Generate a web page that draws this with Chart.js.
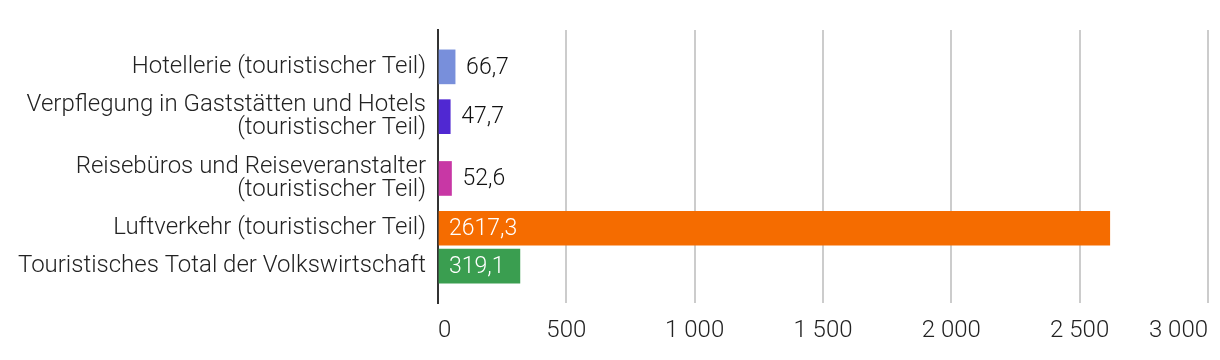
<!DOCTYPE html>
<html>
<head>
<meta charset="utf-8">
<script src="https://cdn.jsdelivr.net/npm/chart.js@4"></script>
<style>
  html, body { margin: 0; padding: 0; background: #ffffff; }
  #wrap { width: 1220px; height: 360px; }
</style>
</head>
<body>
<div id="wrap"><canvas id="c" width="1220" height="360"></canvas></div>
<script>
// ---- data ----
const categories = [
  ["Hotellerie (touristischer Teil)"],
  ["Verpflegung in Gaststätten und Hotels", "(touristischer Teil)"],
  ["Reisebüros und Reiseveranstalter", "(touristischer Teil)"],
  ["Luftverkehr (touristischer Teil)"],
  ["Touristisches Total der Volkswirtschaft"]
];
const values = [66.7, 47.7, 52.6, 2617.3, 319.1];
const barColors = ["#788fdb", "#5028d2", "#c837a5", "#f56c00", "#3a9e50"];
const xTicks = [0, 500, 1000, 1500, 2000, 2500, 3000];

// ---- layout of category bands: band height grows with label line count ----
const LINE = 24, BAND_PAD = 14, EDGE = 18;
const bands = categories.map(c => BAND_PAD + LINE * c.length);
const positions = [];
let acc = EDGE;
bands.forEach(b => { positions.push(acc + b / 2); acc += b; });
const yMax = acc + EDGE;

const fmtTick = n => String(n).replace(/\B(?=(\d{3})+(?!\d))/g, "\u00a0");
const fmtVal = v => v.toFixed(1).replace(".", ",");

const FONT = { family: "Roboto", size: 24, weight: 300, lineHeight: 0.97 };

const valueLabels = {
  id: "valueLabels",
  afterDatasetsDraw(chart) {
    const ctx = chart.ctx;
    const meta = chart.getDatasetMeta(0);
    ctx.save();
    ctx.font = "300 23px Roboto";
    ctx.textBaseline = "middle";
    ctx.textAlign = "left";
    meta.data.forEach((bar, i) => {
      const txt = fmtVal(values[i]);
      const w = ctx.measureText(txt).width;
      const barW = bar.x - bar.base;
      if (barW > w + 20) {
        ctx.fillStyle = "#ffffff";
        ctx.fillText(txt, bar.base + 10, bar.y + 1);
      } else {
        ctx.fillStyle = "#111111";
        ctx.fillText(txt, bar.x + 11, bar.y + 1);
      }
    });
    ctx.restore();
  }
};

new Chart(document.getElementById("c"), {
  type: "bar",
  data: {
    datasets: [{
      data: values.map((v, i) => ({ x: v, y: positions[i] })),
      backgroundColor: barColors,
      borderWidth: 0,
      barThickness: 34
    }]
  },
  options: {
    indexAxis: "y",
    responsive: false,
    animation: false,
    layout: { padding: { top: 30, right: 12, bottom: 0, left: 0 } },
    plugins: { legend: { display: false }, tooltip: { enabled: false } },
    scales: {
      x: {
        type: "linear",
        position: "bottom",
        min: xTicks[0],
        max: xTicks[xTicks.length - 1],
        afterBuildTicks: s => { s.ticks = xTicks.map(v => ({ value: v })); },
        afterFit: s => { s.height = 57; s.paddingLeft = 0; s.paddingRight = 0; },
        grid: { color: "#cccccc", lineWidth: 2, drawTicks: false },
        border: { display: false },
        ticks: {
          align: "inner",
          padding: 16,
          color: "#222222",
          font: FONT,
          callback: v => fmtTick(v)
        }
      },
      y: {
        type: "linear",
        reverse: true,
        offset: false,
        min: 0,
        max: yMax,
        afterBuildTicks: s => { s.ticks = positions.map(v => ({ value: v })); },
        afterFit: s => { s.width = 438; },
        grid: { display: false, drawTicks: false },
        border: { display: true, color: "#333333", width: 2 },
        ticks: {
          autoSkip: false,
          padding: 12,
          color: "#222222",
          font: FONT,
          callback: (v, i) => categories[i]
        }
      }
    }
  },
  plugins: [valueLabels]
});
</script>
</body>
</html>
